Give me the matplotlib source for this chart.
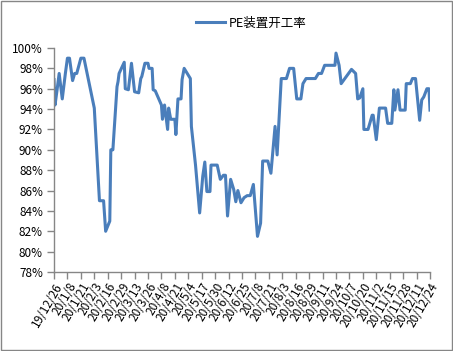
import matplotlib
matplotlib.use("Agg")
from matplotlib import pyplot as plt
from matplotlib.ticker import FuncFormatter
import pandas as pd

plt.rcParams['font.family'] = ['Noto Sans CJK SC', 'DejaVu Sans']

# PE plant operating rate, vertices
dates = ["2019-12-26", "2019-12-27", "2019-12-29", "2019-12-31", "2020-01-03", "2020-01-06",
         "2020-01-08", "2020-01-10", "2020-01-13", "2020-01-15", "2020-01-17", "2020-01-21",
         "2020-01-24", "2020-02-03", "2020-02-08", "2020-02-12", "2020-02-14", "2020-02-18",
         "2020-02-19", "2020-02-21", "2020-02-25", "2020-02-26", "2020-02-27", "2020-03-03",
         "2020-03-04", "2020-03-07", "2020-03-10", "2020-03-13", "2020-03-17", "2020-03-19",
         "2020-03-20", "2020-03-23", "2020-03-26", "2020-03-27", "2020-03-30", "2020-03-31",
         "2020-04-02", "2020-04-05", "2020-04-08", "2020-04-09", "2020-04-11", "2020-04-14",
         "2020-04-15", "2020-04-17", "2020-04-21", "2020-04-22", "2020-04-24", "2020-04-27",
         "2020-04-28", "2020-04-30", "2020-05-06", "2020-05-07", "2020-05-11", "2020-05-15",
         "2020-05-18", "2020-05-20", "2020-05-22", "2020-05-25", "2020-05-26", "2020-06-01",
         "2020-06-04", "2020-06-07", "2020-06-09", "2020-06-11", "2020-06-14", "2020-06-17",
         "2020-06-19", "2020-06-21", "2020-06-24", "2020-06-27", "2020-06-30", "2020-07-03",
         "2020-07-06", "2020-07-10", "2020-07-13", "2020-07-15", "2020-07-20", "2020-07-23",
         "2020-07-27", "2020-07-29", "2020-08-02", "2020-08-07", "2020-08-10", "2020-08-14",
         "2020-08-17", "2020-08-21", "2020-08-23", "2020-08-26", "2020-09-04", "2020-09-07",
         "2020-09-10", "2020-09-13", "2020-09-23", "2020-09-24", "2020-09-27", "2020-09-29",
         "2020-10-09", "2020-10-13", "2020-10-15", "2020-10-17", "2020-10-20", "2020-10-21",
         "2020-10-25", "2020-10-29", "2020-10-30", "2020-11-02", "2020-11-05", "2020-11-11",
         "2020-11-13", "2020-11-17", "2020-11-19", "2020-11-20", "2020-11-23", "2020-11-25",
         "2020-11-30", "2020-12-01", "2020-12-05", "2020-12-07", "2020-12-10", "2020-12-14",
         "2020-12-16", "2020-12-18", "2020-12-21", "2020-12-23", "2020-12-24"]
rate = [96.9, 94.4, 95.9, 97.5, 95.0, 97.5,
        99.0, 99.0, 96.8, 97.5, 97.5, 99.0,
        99.0, 94.1, 85.0, 85.0, 82.0, 83.0,
        90.0, 90.0, 96.2, 96.7, 97.5, 98.6,
        96.0, 95.9, 98.5, 95.7, 95.6, 97.0,
        97.2, 98.5, 98.5, 98.0, 98.0, 95.9,
        95.8, 95.1, 94.4, 93.0, 94.4, 92.0,
        94.1, 93.0, 93.0, 91.5, 95.0, 95.0,
        96.9, 98.0, 97.0, 92.3, 88.5, 83.8,
        87.4, 88.8, 85.9, 85.9, 88.5, 88.5,
        87.1, 87.5, 87.5, 83.5, 87.1, 86.1,
        84.9, 86.0, 84.8, 85.3, 85.5, 85.5,
        86.6, 81.5, 82.8, 88.9, 88.9, 87.7,
        92.3, 89.5, 97.0, 97.0, 98.0, 98.0,
        95.0, 95.0, 96.5, 97.0, 97.0, 97.5,
        97.5, 98.3, 98.3, 99.5, 98.3, 96.5,
        97.9, 97.5, 95.0, 95.1, 96.0, 92.0,
        92.0, 93.4, 93.4, 91.0, 94.1, 94.1,
        92.6, 92.6, 95.9, 93.9, 95.9, 93.9,
        93.9, 96.5, 96.5, 97.0, 97.0, 92.9,
        94.9, 95.2, 96.0, 96.0, 93.9]

x = pd.to_datetime(dates)
start = pd.Timestamp("2019-12-26")
end = pd.Timestamp("2020-12-24")
tick_dates = pd.date_range(start, end, freq="13D")
tick_labels = [f"{d.year % 100}/{d.month}/{d.day}" for d in tick_dates]

fig = plt.figure(figsize=(4.53, 3.51), dpi=100)
ax = fig.add_axes([54/453, 1 - 272/351, 376/453, 224/351])

ax.plot(x, rate, color="#4a7ebb", lw=2.2, label="PE装置开工率")

ax.set_xlim(start, end)
ax.set_ylim(78, 100)
ax.set_yticks(range(78, 101, 2))
ax.yaxis.set_major_formatter(FuncFormatter(lambda v, p: f"{v:.0f}%"))
ax.set_xticks(tick_dates)
ax.set_xticklabels(tick_labels, rotation=60, ha="right", va="top", rotation_mode="anchor")

for s in ["top", "right"]:
    ax.spines[s].set_visible(False)
for s in ["left", "bottom"]:
    ax.spines[s].set_color("#868686")
    ax.spines[s].set_linewidth(1.0)
ax.tick_params(axis="both", colors="#868686", length=5, width=1.0, labelcolor="black", labelsize=8.5)
ax.tick_params(axis="x", pad=1)
ax.tick_params(axis="y", pad=3)

fig.legend(loc="upper center", bbox_to_anchor=(0.555, 0.985), frameon=False, fontsize=9,
           handlelength=2.3, handletextpad=0.3)

border = plt.Rectangle((0.002, 0.003), 0.995, 0.994, transform=fig.transFigure,
                       fill=False, edgecolor="#868686", lw=1.0)
fig.patches.append(border)

fig.savefig("out.png", dpi=100)
